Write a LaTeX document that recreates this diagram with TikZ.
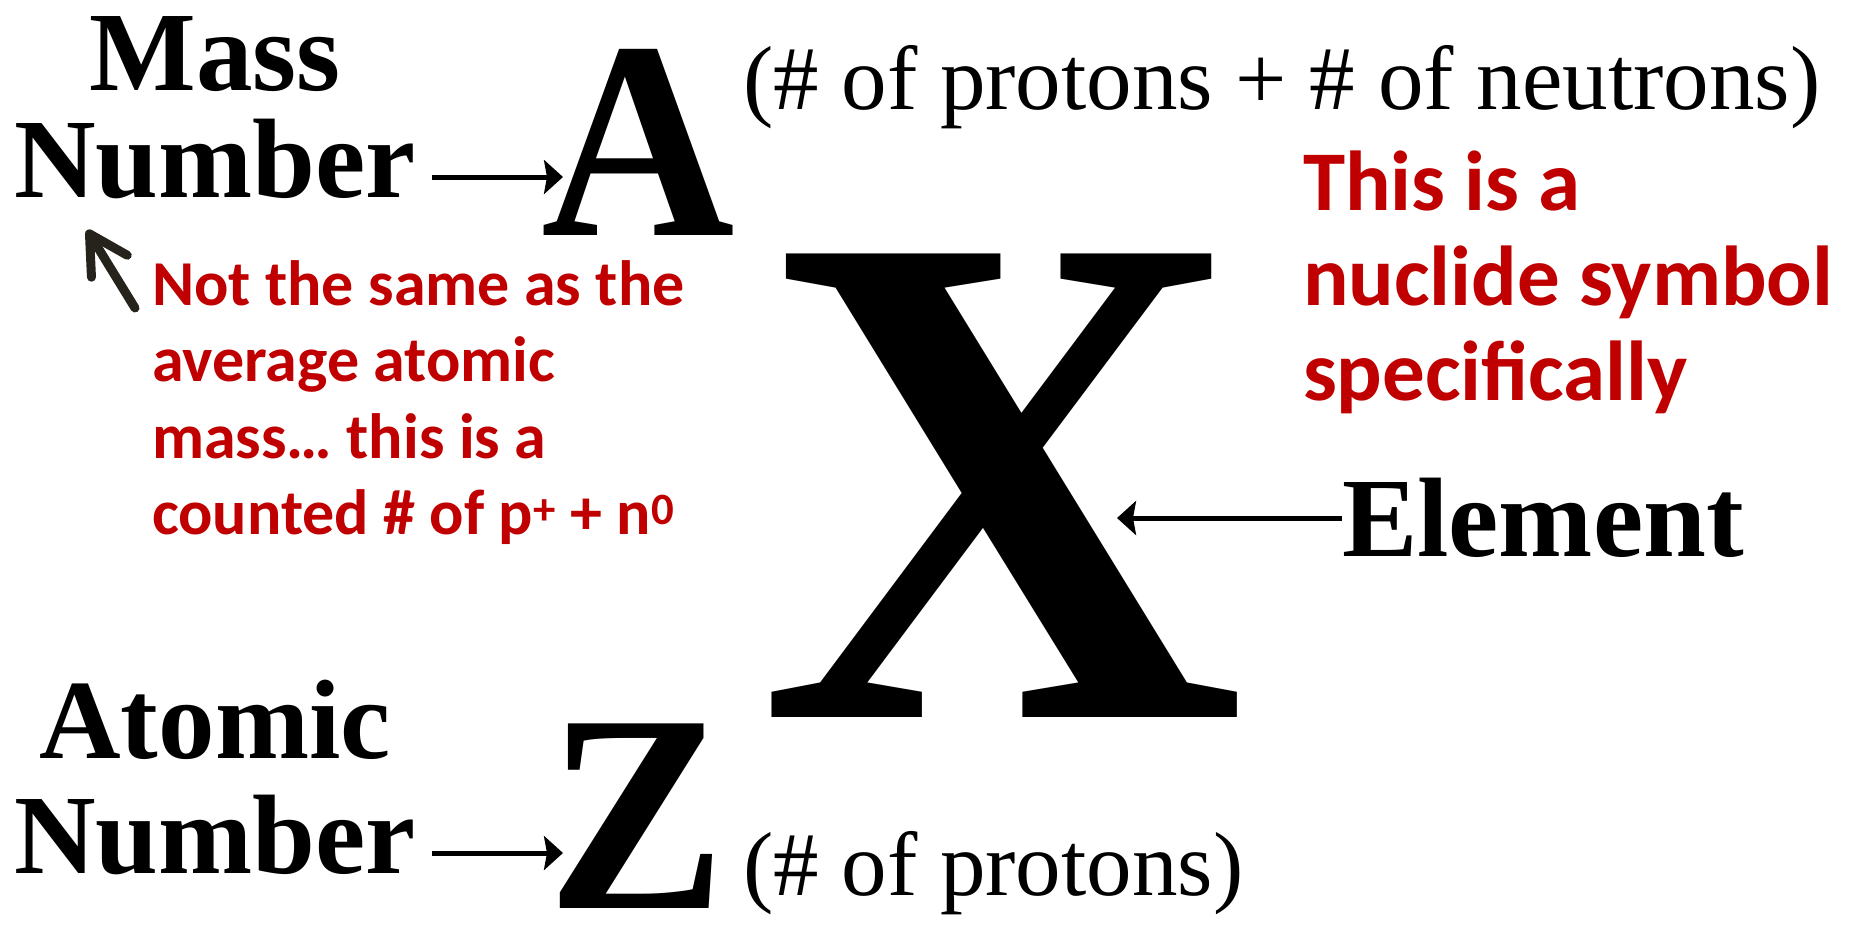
\documentclass[tikz,border=0pt]{standalone}
\usepackage{graphicx}
\usepackage{fontspec}
\setmainfont{Liberation Serif}
\newfontfamily\redfont{Carlito}
\usetikzlibrary{arrows.meta}
\definecolor{nred}{RGB}{192,0,0}
\definecolor{darkarrow}{RGB}{38,34,28}
\newcommand{\narrowglyph}[1]{\scalebox{0.95}[1]{#1}}
\tikzset{
  lbl/.style={inner sep=0pt, outer sep=0pt, font=\bfseries\fontsize{113}{113}\selectfont},
  symA/.style={inner sep=0pt, outer sep=0pt, anchor=base west, font=\bfseries\fontsize{282}{282}\selectfont},
  symX/.style={inner sep=0pt, outer sep=0pt, anchor=base west, font=\bfseries\fontsize{708}{708}\selectfont},
  paren/.style={inner sep=0pt, outer sep=0pt, anchor=base west, font=\fontsize{91}{91}\selectfont},
  redr/.style={inner sep=0pt, outer sep=0pt, anchor=base west, text=nred, font=\redfont\bfseries\fontsize{85}{85}\selectfont},
  redl/.style={inner sep=0pt, outer sep=0pt, anchor=base west, text=nred, font=\redfont\bfseries\fontsize{64}{64}\selectfont},
  thinarrow/.style={line width=5pt, -{Stealth[length=19pt,width=34pt,inset=3pt]}},
  fatarrow/.style={draw=darkarrow, line width=9pt, line cap=round, -{Straight Barb[length=38pt,width=42pt,round]}},
}
\begin{document}
\begin{tikzpicture}[x=1pt,y=-1pt]
\path[use as bounding box, fill=white] (0,0) rectangle (1854,930);

% left labels
\node[lbl, anchor=base] (mass) at (215,90) {Mass};
\node[lbl, anchor=base] (num1) at (215,197) {Number};
\node[lbl, anchor=base] (atomic) at (215,758) {Atomic};
\node[lbl, anchor=base] (num2) at (215,873) {Number};

% symbols
\node[symA] (A) at (541,235) {\narrowglyph{A}};
\node[symA] (Z) at (547,908) {\narrowglyph{Z}};
\node[symX] (X) at (759,717) {\narrowglyph{X}};

% parenthetical notes
\node[paren] (pn) at (743,109) {(\# of protons + \# of neutrons)};
\node[paren] (pp) at (743,895) {(\# of protons)};

% element
\node[lbl, anchor=base west] (el) at (1342,556) {Element};
\coordinate (xtip) at (1117,518);

% red notes right
\node[redr] (r1) at (1303,210) {This is a};
\node[redr] (r2) at (1303,305) {nuclide symbol};
\node[redr] (r3) at (1303,400) {specifically};

% red notes left
\node[redl] (l1) at (152,305) {Not the same as the};
\node[redl] (l2) at (152,381) {average atomic};
\node[redl] (l3) at (152,458) {mass… this is a};
\node[redl] (l4) at (152,534) {counted \# of p\textsuperscript{+} + n\textsuperscript{0}};

% arrows
\draw[thinarrow] ([xshift=16pt,yshift=20pt]num1.base east) -- ([xshift=22pt,yshift=58pt]A.base west);
\draw[thinarrow] ([xshift=16pt,yshift=20pt]num2.base east) -- ([xshift=16pt,yshift=55pt]Z.base west);
\draw[thinarrow] ([yshift=38pt]el.base west) -- (xtip);
\draw[fatarrow] ([xshift=-17pt,yshift=-3pt]l1.base west) -- ([xshift=73pt,yshift=-33pt]num1.base west);
\end{tikzpicture}
\end{document}
